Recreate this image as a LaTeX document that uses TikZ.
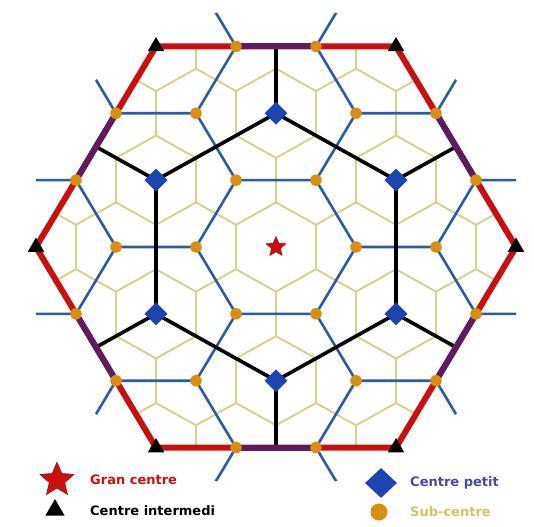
\documentclass[tikz,border=0pt]{standalone}
\usepackage{fontspec}
\setmainfont{DejaVu Sans}
\usetikzlibrary{shapes.geometric}
\definecolor{redc}{HTML}{C81010}
\definecolor{purp}{HTML}{5A1E5E}
\definecolor{bluel}{HTML}{2F5C9E}
\definecolor{yel}{HTML}{DCCF8E}
\definecolor{orng}{HTML}{D98E12}
\definecolor{dia}{HTML}{1E44B0}
\definecolor{txtblue}{HTML}{4848A8}
\definecolor{txtyel}{HTML}{D6C26A}
\tikzset{
 yline/.style={draw=yel, line width=1.6pt},
 bline/.style={draw=bluel, line width=2.6pt, line join=round},
 kline/.style={draw=black, line width=3.6pt, line join=round},
 rline/.style={draw=redc, line width=6pt, line join=round},
 pline/.style={draw=purp, line width=6pt},
 subc/.style={circle, fill=orng, minimum size=11.5pt, inner sep=0pt},
 smallc/.style={diamond, fill=dia, minimum width=23pt, minimum height=23pt, inner sep=0pt},
 midc/.style={regular polygon, regular polygon sides=3, fill=black, minimum size=19pt, inner sep=0pt},
 bigc/.style={star, star points=5, star point ratio=2.2, fill=redc, draw=red!60!black, minimum size=21pt, inner sep=0pt},
 legtxt/.style={anchor=west, font=\bfseries\fontsize{13}{15}\selectfont, inner sep=0pt},
}
\begin{document}
\begin{tikzpicture}[x=1pt,y=-1pt]
\fill[white] (0,0) rectangle (534,526);
\useasboundingbox (0,0) rectangle (534,526);
\begin{scope}[shift={(276,247)}, x=1pt, y=0.965pt]
 \foreach \k in {0,...,5} {
   \coordinate (t\k) at (60*\k:240);
   \coordinate (d\k) at (60*\k+30:138.564);
   \coordinate (m\k) at (60*\k+30:207.846);
   \coordinate (ea\k) at (60*\k+19.107:211.66);
   \coordinate (eb\k) at (60*\k+40.893:211.66);
   \coordinate (r\k) at (60*\k:80);
   \coordinate (q\k) at (60*\k:160);
 }
 \coordinate (gc) at (0,0);
 % yellow market areas of sub-centres
 \begin{scope}
  \clip (t0) -- (t1) -- (t2) -- (t3) -- (t4) -- (t5) -- cycle;
  \foreach \i in {-5,...,5} \foreach \j in {-4,...,4} {
    \draw[yline] ({80*(\i)+40*(\j)}, {69.282*(\j)}) +(30:46.188) -- +(90:46.188) -- +(150:46.188) -- +(210:46.188) -- +(270:46.188) -- +(330:46.188) -- cycle;
  }
 \end{scope}
 % blue market areas of small centres
 \begin{scope}
  \clip (0,0) ellipse [x radius=249.8pt, y radius=241.06pt];
  \foreach \i in {-6,...,6} \foreach \j in {-5,...,5} {
    \pgfmathtruncatemacro\cls{mod(\i-(\j)+30,3)}
    \ifnum\cls=1
      \draw[bline] ({80*(\i)+40*(\j)}, {69.282*(\j)}) +(0:80) -- +(0,0) -- +(120:80) +(0,0) -- +(240:80);
    \fi
  }
 \end{scope}
 % black market areas of intermediate centres
 \draw[kline] (d0) -- (d1) -- (d2) -- (d3) -- (d4) -- (d5) -- cycle;
 \foreach \k in {0,...,5} \draw[kline] (d\k) -- (m\k);
 % red outer hexagon
 \draw[rline] (t0) -- (t1) -- (t2) -- (t3) -- (t4) -- (t5) -- cycle;
 \foreach \k in {0,...,5} \draw[pline] (ea\k) -- (eb\k);
 % markers
 \foreach \k in {0,...,5} {
   \node[subc] (R\k) at (r\k) {};
   \node[subc] (Q\k) at (q\k) {};
   \node[subc] (EA\k) at (ea\k) {};
   \node[subc] (EB\k) at (eb\k) {};
   \node[smallc] (D\k) at (d\k) {};
   \node[midc] (T\k) at (t\k) {};
 }
 \node[bigc] (GC) at (gc) {};
\end{scope}
% legend
\node[bigc, minimum size=36pt] (lgs) at (57,480) {};
\node[legtxt, text=redc] (lgst) at (90,480) {Gran centre};
\node[midc, minimum size=22pt] (lgi) at (55,510) {};
\node[legtxt] (lgit) at (90,511) {Centre intermedi};
\node[smallc, minimum width=32pt, minimum height=30pt] (lgp) at (381,483) {};
\node[legtxt, text=txtblue] (lgpt) at (410,483) {Centre petit};
\node[subc, minimum size=17pt] (lgc) at (379,512) {};
\node[legtxt, text=txtyel] (lgct) at (410,512) {Sub-centre};
\end{tikzpicture}
\end{document}
